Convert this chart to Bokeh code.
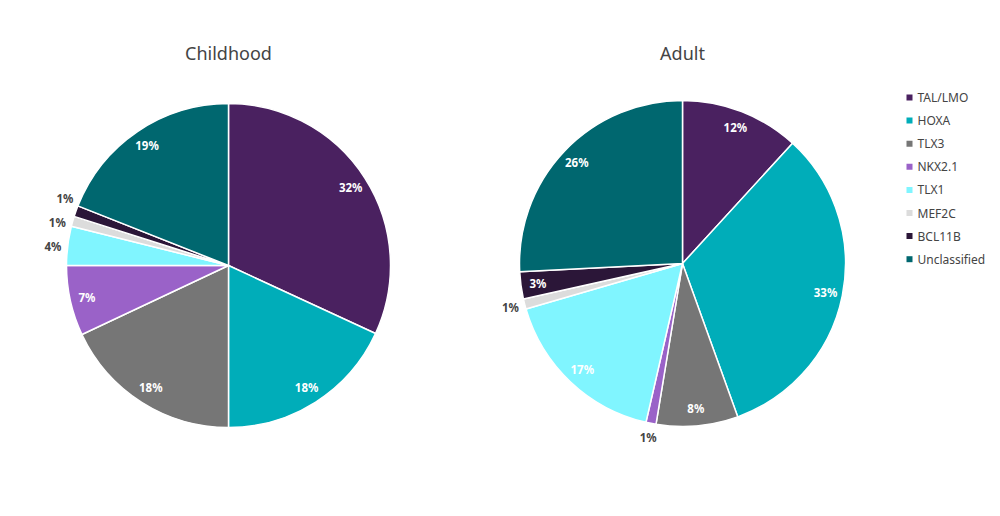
import math
from bokeh.plotting import figure
from bokeh.models import Range1d
from bokeh.core.properties import value
from bokeh.embed import file_html
from bokeh.resources import INLINE

categories = ["TAL/LMO", "HOXA", "TLX3", "NKX2.1", "TLX1", "MEF2C", "BCL11B", "Unclassified"]
colors = ["#4a2160", "#00adb9", "#767676", "#9a62c8", "#80f5ff", "#dcdcdc", "#2b1638", "#00676f"]
childhood = [31.9, 18.1, 18.0, 7.0, 3.9, 1.0, 1.1, 19.0]
adult = [11.8, 32.7, 8.1, 1.0, 16.9, 1.0, 2.7, 25.8]
# label placed outside the slice (True) or inside (False)
childhood_outside = [False, False, False, False, True, True, True, False]
adult_outside = [False, False, False, True, False, True, False, False]

W, H = 1000, 516
p = figure(width=W, height=H, output_backend="svg", toolbar_location=None,
           x_range=Range1d(0, W), y_range=Range1d(0, H), min_border=0)
p.axis.visible = False
p.grid.visible = False
p.outline_line_color = None
p.background_fill_color = "white"

FONT = "Noto Sans"

def sy(screen_y):
    return H - screen_y

def sx(screen_x):
    return screen_x

def spread(angles, min_sep):
    a = list(angles)
    for _ in range(50):
        for i in range(len(a) - 1):
            gap = a[i] - a[i + 1]
            if gap < min_sep:
                d = (min_sep - gap) / 2
                a[i] += d
                a[i + 1] -= d
    return a

def draw_pie(cx, cy, r, vals, outside, title):
    total = sum(vals)
    cum = 0.0
    starts, ends = [], []
    lx, ly, lt = [], [], []
    oa, ot = [], []
    for v, out in zip(vals, outside):
        a0 = math.pi / 2 - 2 * math.pi * cum / total
        cum += v
        a1 = math.pi / 2 - 2 * math.pi * cum / total
        starts.append(a0)
        ends.append(a1)
        mid = (a0 + a1) / 2
        txt = "%d%%" % round(v / total * 100)
        if out:
            oa.append(mid)
            ot.append(txt)
        else:
            rr = r * 0.895
            lx.append(cx + rr * math.cos(mid))
            ly.append(cy + rr * math.sin(mid))
            lt.append(txt)
    oa = spread(oa, math.radians(8))
    rr = r * 1.09
    ox = [cx + rr * math.cos(a) for a in oa]
    oy = [cy + rr * math.sin(a) for a in oa]
    p.wedge(x=cx, y=cy, radius=r, start_angle=starts, end_angle=ends,
            direction="clock", fill_color=colors, line_color="white", line_width=1.5)
    p.text(x=lx, y=ly, text=lt, text_align="center", text_baseline="middle",
           text_color="white", text_font=value(FONT), text_font_style="bold",
           text_font_size="11.5px")
    p.text(x=ox, y=oy, text=ot, text_align="center", text_baseline="middle",
           text_color="#444444", text_font=value(FONT), text_font_style="bold",
           text_font_size="11.5px")
    p.text(x=[cx], y=[sy(52)], text=[title], text_align="center", text_baseline="middle",
           text_color="#444444", text_font=value(FONT), text_font_size="18px")

draw_pie(sx(228), sy(265), 162, childhood, childhood_outside, "Childhood")
draw_pie(sx(682), sy(263), 163, adult, adult_outside, "Adult")

# legend
leg_y = [sy(97 + 23.1 * i) for i in range(len(categories))]
p.scatter(x=[sx(909)] * len(categories), y=leg_y, marker="square", size=6,
          fill_color=colors, line_color=None)
p.text(x=[sx(917)] * len(categories), y=leg_y, text=categories, text_align="left",
       text_baseline="middle", text_color="#444444", text_font=value(FONT),
       text_font_size="12px")

open("out.html", "w").write(file_html(p, INLINE))
